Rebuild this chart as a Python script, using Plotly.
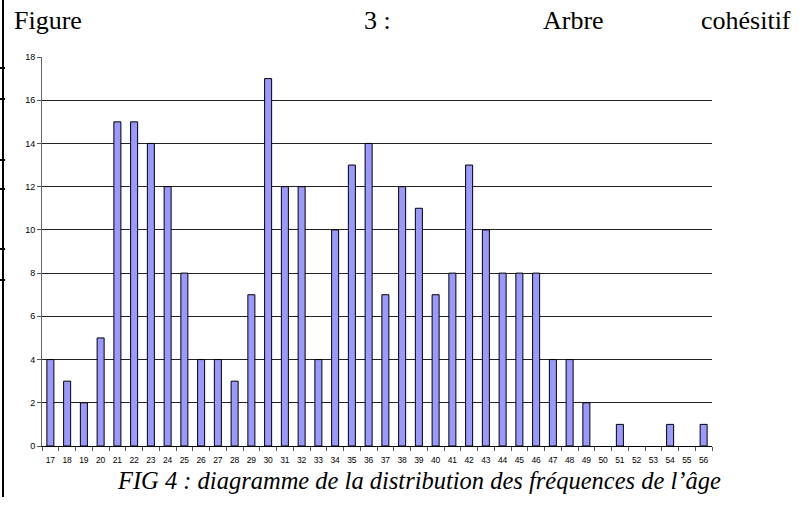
import plotly.graph_objects as go

ages = [str(a) for a in range(17, 57)]
counts = [4, 3, 2, 5, 15, 15, 14, 12, 8, 4,
          4, 3, 7, 17, 12, 12, 4, 10, 13, 14,
          7, 12, 11, 7, 8, 13, 10, 8, 8, 8,
          4, 4, 2, 0, 1, 0, 0, 1, 0, 1]
y_ticks = [0, 2, 4, 6, 8, 10, 12, 14, 16, 18]
title_words = ["Figure", "3 :", "Arbre", "cohésitif"]
caption = "FIG 4 : diagramme de la distribution des fréquences de l’âge"

W, H = 806, 505
L, R, T, B = 42, 94, 57, 59
PW, PH = W - L - R, H - T - B


def px(x):
    return (x - L) / PW


def py(y):
    return (H - B - y) / PH


fig = go.Figure()
fig.add_trace(go.Bar(
    x=ages, y=counts,
    marker=dict(color="#9999FF",
                line=dict(color="#000000",
                          width=[1 if c > 0 else 0 for c in counts])),
    hoverinfo="x+y",
))

fig.update_layout(
    width=W, height=H, autosize=False,
    margin=dict(l=L, r=R, t=T, b=B, pad=0),
    paper_bgcolor="white", plot_bgcolor="white",
    bargap=0.58,
    showlegend=False,
    font=dict(family="Liberation Sans, Arial", color="#000000"),
)
fig.update_xaxes(
    type="category", categoryorder="array", categoryarray=ages,
    tickmode="array", tickvals=ages, ticktext=ages, tickangle=0,
    tickson="boundaries", ticks="outside", ticklen=4, tickcolor="#555555",
    ticklabelstandoff=6,
    tickfont=dict(size=8.5, family="Liberation Sans, Arial"),
    showline=True, linecolor="#000000", linewidth=1,
    showgrid=False, zeroline=False, fixedrange=True,
)
fig.update_yaxes(
    range=[0, 18], tickmode="array", tickvals=y_ticks,
    ticks="outside", ticklen=4, tickcolor="#555555",
    tickfont=dict(size=9, family="Liberation Sans, Arial"),
    showline=True, linecolor="#666666", linewidth=1,
    showgrid=True, gridcolor="#222222", gridwidth=1,
    zeroline=False, fixedrange=True,
)

# title words, justified across the top
serif = dict(family="Liberation Serif, Times New Roman", size=26, color="#000000")
title_pos = [(12, "left"), (362, "left"), (541, "left"), (793, "right")]
for word, (x, anchor) in zip(title_words, title_pos):
    fig.add_annotation(text=word, xref="paper", yref="paper",
                       x=px(x), y=py(21), xanchor=anchor, yanchor="middle",
                       showarrow=False, font=serif)

fig.add_annotation(text="<i>" + caption + "</i>", xref="paper", yref="paper",
                   x=px(419), y=py(480), xanchor="center", yanchor="middle",
                   showarrow=False,
                   font=dict(family="Liberation Serif, Times New Roman", size=24.5,
                             color="#000000"))

# page border decoration on the left
shapes = [dict(type="line", xref="paper", yref="paper",
               x0=px(3), x1=px(3), y0=py(0), y1=py(497),
               line=dict(color="#000000", width=2))]
for yy in [68, 99, 160, 189, 249, 280]:
    shapes.append(dict(type="line", xref="paper", yref="paper",
                       x0=px(0), x1=px(5), y0=py(yy), y1=py(yy),
                       line=dict(color="#000000", width=2)))
fig.update_layout(shapes=shapes)

fig.write_html("out.html",
               config={"displayModeBar": False},
               post_script="document.body.style.margin='0';"
                           "document.body.style.overflow='hidden';")
